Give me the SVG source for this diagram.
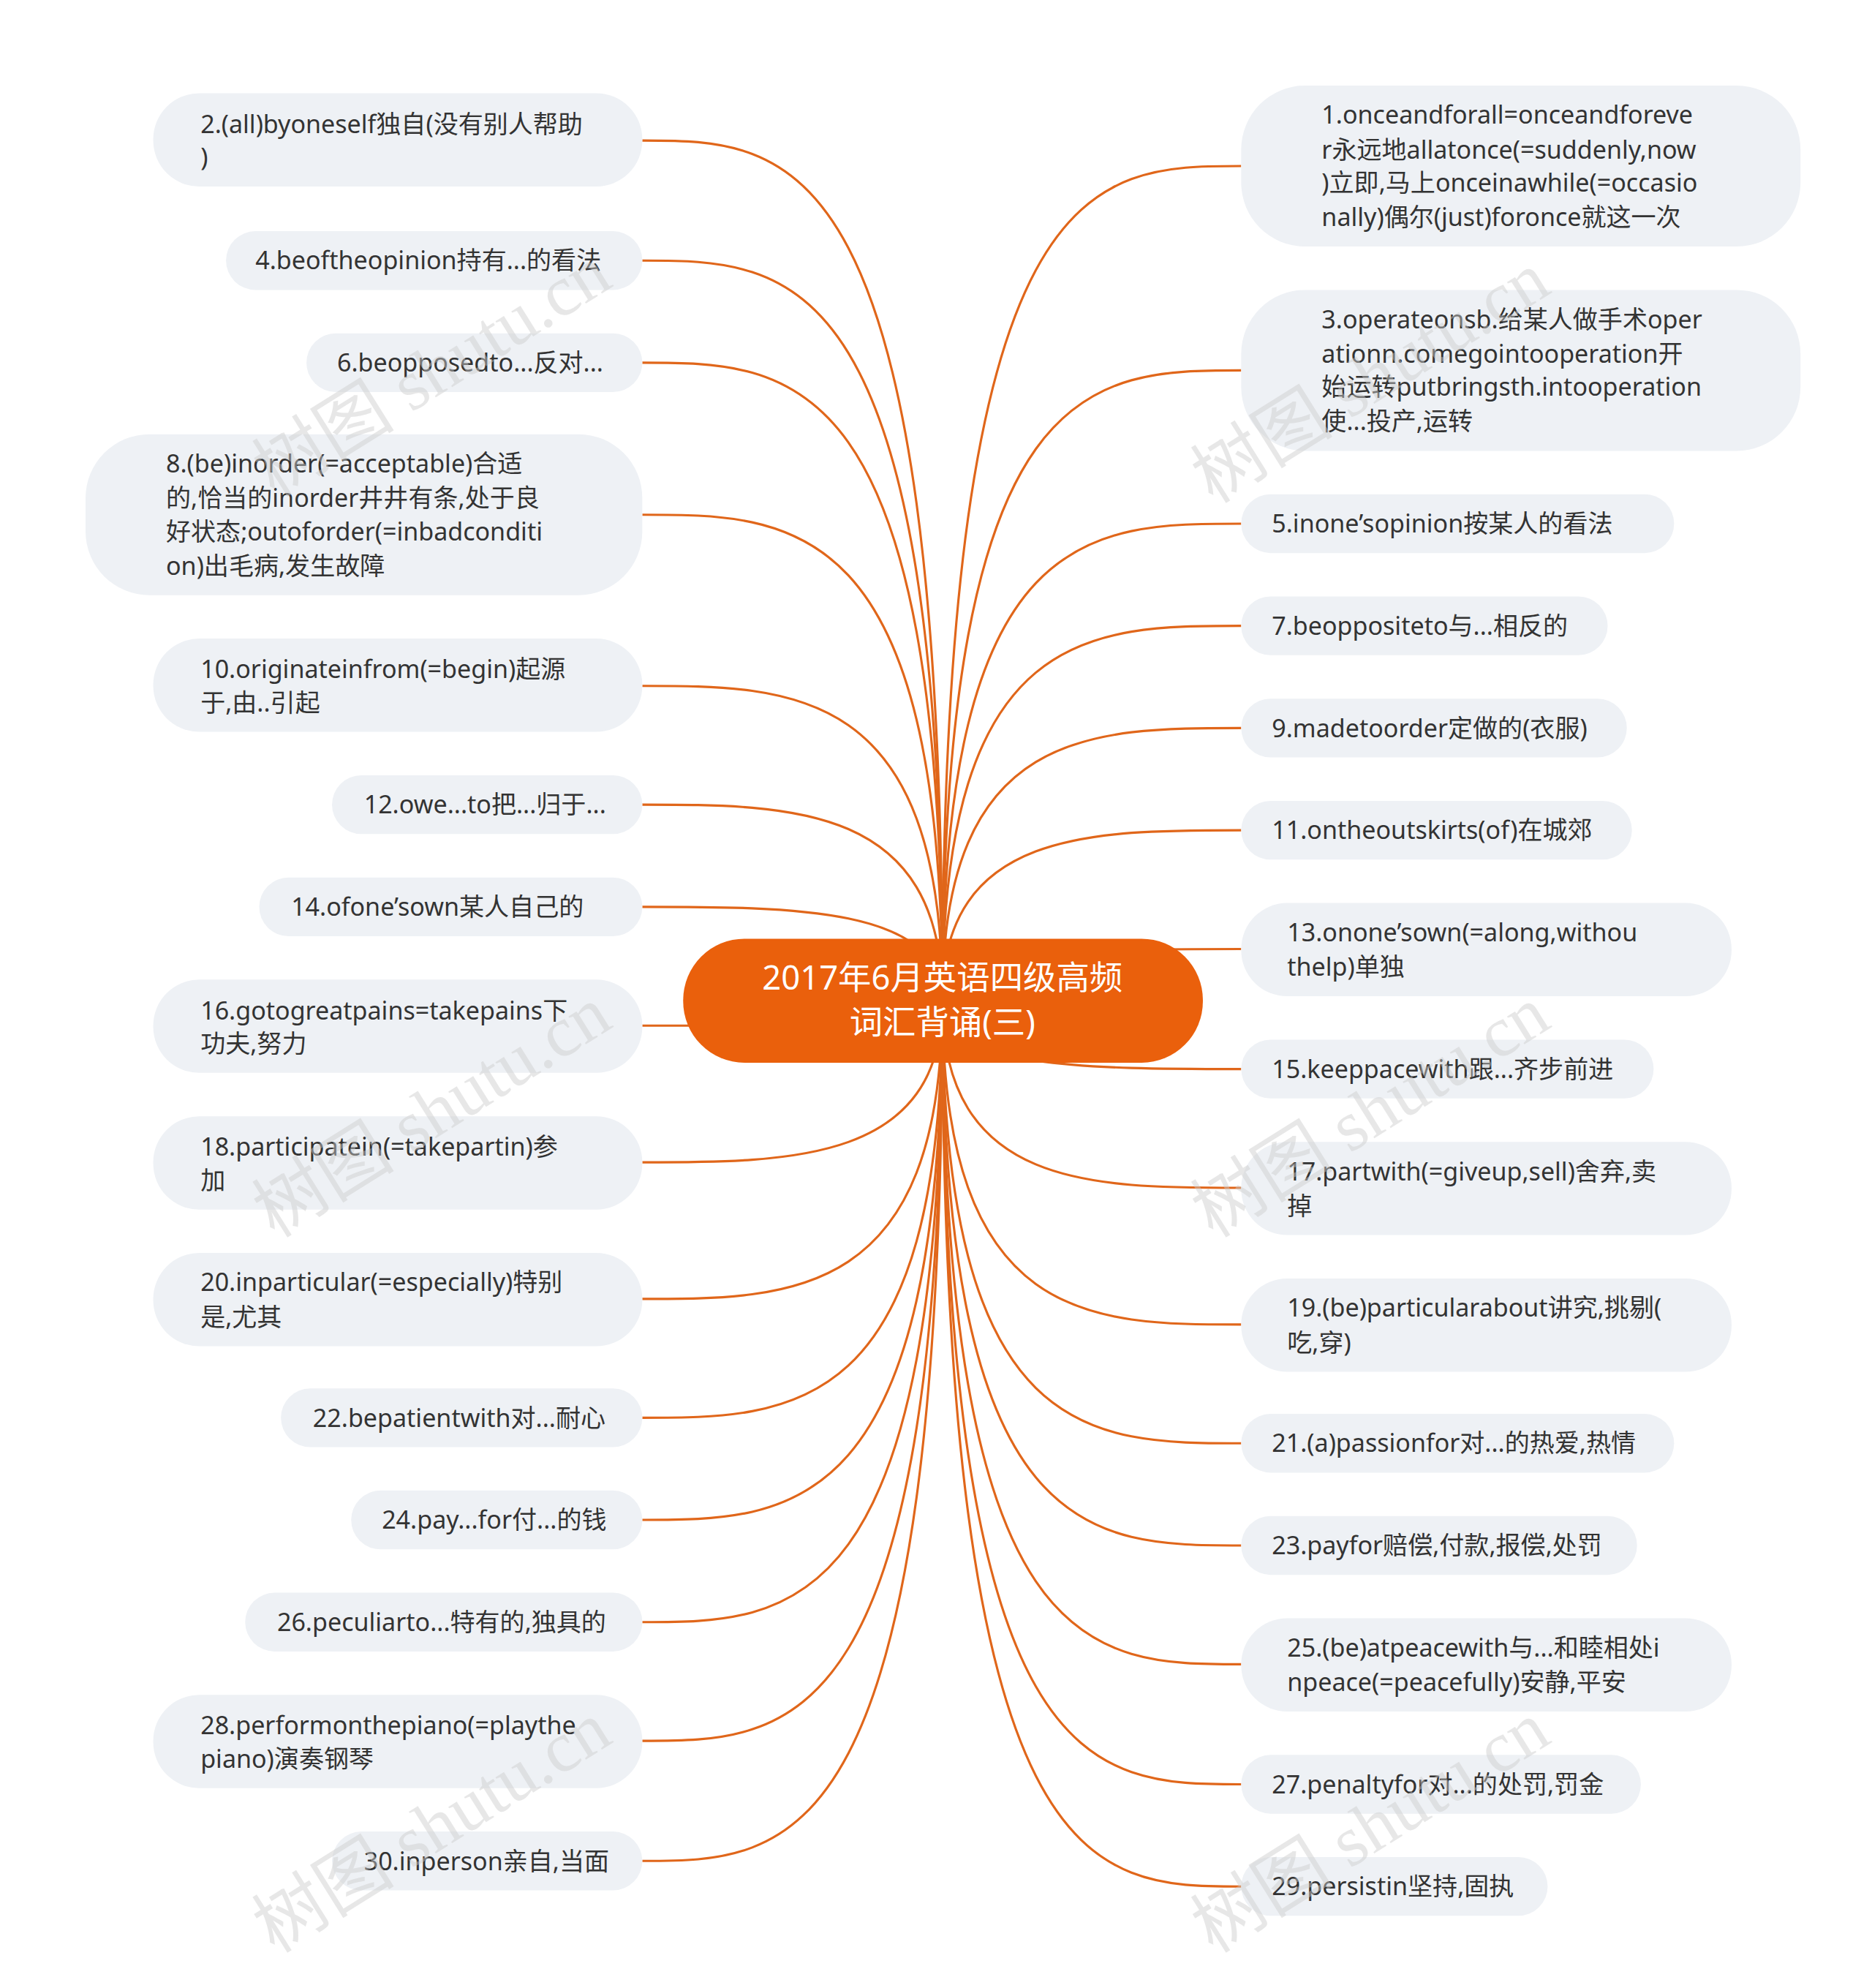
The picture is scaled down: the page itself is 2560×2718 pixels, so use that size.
<svg xmlns="http://www.w3.org/2000/svg" width="2560" height="2718" viewBox="0 0 2560 2718">
<style>
.n{fill:#EEF1F5}
.t{font-family:"Noto Sans","Noto Sans CJK SC",sans-serif;font-size:19.5px;fill:#333}
.c{fill:none;stroke:#E0661A;stroke-width:1.8}
.w{font-family:"Liberation Serif","Noto Sans CJK SC",serif;font-size:56px;fill:#ccc;opacity:0.45}
</style>
<rect width="2560" height="2718" fill="#fff"/>
<g transform="scale(1.74625)">
<g id="connectors">
<path class="c" d="M738 783 C738 110 620 110 503 110"/>
<path class="c" d="M738 783 C738 204 620 204 503 204"/>
<path class="c" d="M738 783 C738 284 620 284 503 284"/>
<path class="c" d="M738 783 C738 403 620 403 503 403"/>
<path class="c" d="M738 783 C738 537 620 537 503 537"/>
<path class="c" d="M738 783 C738 630 620 630 503 630"/>
<path class="c" d="M738 783 C738 710 620 710 503 710"/>
<path class="c" d="M738 783 C738 803 620 803 503 803"/>
<path class="c" d="M738 783 C738 910 620 910 503 910"/>
<path class="c" d="M738 783 C738 1017 620 1017 503 1017"/>
<path class="c" d="M738 783 C738 1110 620 1110 503 1110"/>
<path class="c" d="M738 783 C738 1190 620 1190 503 1190"/>
<path class="c" d="M738 783 C738 1270 620 1270 503 1270"/>
<path class="c" d="M738 783 C738 1363 620 1363 503 1363"/>
<path class="c" d="M738 783 C738 1457 620 1457 503 1457"/>
<path class="c" d="M738 783 C738 130 855 130 972 130"/>
<path class="c" d="M738 783 C738 290 855 290 972 290"/>
<path class="c" d="M738 783 C738 410 855 410 972 410"/>
<path class="c" d="M738 783 C738 490 855 490 972 490"/>
<path class="c" d="M738 783 C738 570 855 570 972 570"/>
<path class="c" d="M738 783 C738 650 855 650 972 650"/>
<path class="c" d="M738 783 C738 743 855 743 972 743"/>
<path class="c" d="M738 783 C738 837 855 837 972 837"/>
<path class="c" d="M738 783 C738 930 855 930 972 930"/>
<path class="c" d="M738 783 C738 1037 855 1037 972 1037"/>
<path class="c" d="M738 783 C738 1130 855 1130 972 1130"/>
<path class="c" d="M738 783 C738 1210 855 1210 972 1210"/>
<path class="c" d="M738 783 C738 1303 855 1303 972 1303"/>
<path class="c" d="M738 783 C738 1397 855 1397 972 1397"/>
<path class="c" d="M738 783 C738 1477 855 1477 972 1477"/>
</g>
<g id="center"><rect x="535" y="735" width="407" height="97" rx="48" fill="#EA600C"/>
<text x="738" y="775" text-anchor="middle" style="font-family:'Noto Sans','Noto Sans CJK SC',sans-serif;font-size:26px;fill:#fff">2017年6月英语四级高频</text>
<text x="738" y="810" text-anchor="middle" style="font-family:'Noto Sans','Noto Sans CJK SC',sans-serif;font-size:26px;fill:#fff">词汇背诵(三)</text></g>
<g id="n2"><rect class="n" x="120" y="73" width="383" height="73" rx="36"/><text class="t" x="157" y="104">2.(all)byoneself独自(没有别人帮助</text><text class="t" x="157" y="130">)</text></g>
<g id="n4"><rect class="n" x="177" y="181" width="326" height="46" rx="23"/><text class="t" x="200" y="211">4.beoftheopinion持有...的看法</text></g>
<g id="n6"><rect class="n" x="240" y="261" width="263" height="46" rx="23"/><text class="t" x="264" y="291">6.beopposedto...反对...</text></g>
<g id="n8"><rect class="n" x="67" y="340" width="436" height="126" rx="50"/><text class="t" x="130" y="370">8.(be)inorder(=acceptable)合适</text><text class="t" x="130" y="397">的,恰当的inorder井井有条,处于良</text><text class="t" x="130" y="423">好状态;outoforder(=inbadconditi</text><text class="t" x="130" y="450">on)出毛病,发生故障</text></g>
<g id="n10"><rect class="n" x="120" y="500" width="383" height="73" rx="36"/><text class="t" x="157" y="531">10.originateinfrom(=begin)起源</text><text class="t" x="157" y="557">于,由..引起</text></g>
<g id="n12"><rect class="n" x="260" y="607" width="243" height="46" rx="23"/><text class="t" x="285" y="637">12.owe...to把...归于...</text></g>
<g id="n14"><rect class="n" x="203" y="687" width="300" height="46" rx="23"/><text class="t" x="228" y="717">14.ofone’sown某人自己的</text></g>
<g id="n16"><rect class="n" x="120" y="767" width="383" height="73" rx="36"/><text class="t" x="157" y="798">16.gotogreatpains=takepains下</text><text class="t" x="157" y="824">功夫,努力</text></g>
<g id="n18"><rect class="n" x="120" y="874" width="383" height="73" rx="36"/><text class="t" x="157" y="905">18.participatein(=takepartin)参</text><text class="t" x="157" y="931">加</text></g>
<g id="n20"><rect class="n" x="120" y="981" width="383" height="73" rx="36"/><text class="t" x="157" y="1011">20.inparticular(=especially)特别</text><text class="t" x="157" y="1038">是,尤其</text></g>
<g id="n22"><rect class="n" x="220" y="1087" width="283" height="46" rx="23"/><text class="t" x="245" y="1117">22.bepatientwith对...耐心</text></g>
<g id="n24"><rect class="n" x="275" y="1167" width="228" height="46" rx="23"/><text class="t" x="299" y="1197">24.pay...for付...的钱</text></g>
<g id="n26"><rect class="n" x="192" y="1247" width="311" height="46" rx="23"/><text class="t" x="217" y="1277">26.peculiarto...特有的,独具的</text></g>
<g id="n28"><rect class="n" x="120" y="1327" width="383" height="73" rx="36"/><text class="t" x="157" y="1358">28.performonthepiano(=playthe</text><text class="t" x="157" y="1384">piano)演奏钢琴</text></g>
<g id="n30"><rect class="n" x="260" y="1434" width="243" height="46" rx="23"/><text class="t" x="285" y="1464">30.inperson亲自,当面</text></g>
<g id="n1"><rect class="n" x="972" y="67" width="438" height="126" rx="50"/><text class="t" x="1035" y="97">1.onceandforall=onceandforeve</text><text class="t" x="1035" y="124">r永远地allatonce(=suddenly,now</text><text class="t" x="1035" y="150">)立即,马上onceinawhile(=occasio</text><text class="t" x="1035" y="177">nally)偶尔(just)foronce就这一次</text></g>
<g id="n3"><rect class="n" x="972" y="227" width="438" height="126" rx="50"/><text class="t" x="1035" y="257">3.operateonsb.给某人做手术oper</text><text class="t" x="1035" y="284">ationn.comegointooperation开</text><text class="t" x="1035" y="310">始运转putbringsth.intooperation</text><text class="t" x="1035" y="337">使...投产,运转</text></g>
<g id="n5"><rect class="n" x="972" y="387" width="339" height="46" rx="23"/><text class="t" x="996" y="417">5.inone’sopinion按某人的看法</text></g>
<g id="n7"><rect class="n" x="972" y="467" width="287" height="46" rx="23"/><text class="t" x="996" y="497">7.beoppositeto与...相反的</text></g>
<g id="n9"><rect class="n" x="972" y="547" width="302" height="46" rx="23"/><text class="t" x="996" y="577">9.madetoorder定做的(衣服)</text></g>
<g id="n11"><rect class="n" x="972" y="627" width="306" height="46" rx="23"/><text class="t" x="996" y="657">11.ontheoutskirts(of)在城郊</text></g>
<g id="n13"><rect class="n" x="972" y="707" width="384" height="73" rx="36"/><text class="t" x="1008" y="737">13.onone’sown(=along,withou</text><text class="t" x="1008" y="764">thelp)单独</text></g>
<g id="n15"><rect class="n" x="972" y="814" width="323" height="46" rx="23"/><text class="t" x="996" y="844">15.keeppacewith跟...齐步前进</text></g>
<g id="n17"><rect class="n" x="972" y="894" width="384" height="73" rx="36"/><text class="t" x="1008" y="924">17.partwith(=giveup,sell)舍弃,卖</text><text class="t" x="1008" y="951">掉</text></g>
<g id="n19"><rect class="n" x="972" y="1001" width="384" height="73" rx="36"/><text class="t" x="1008" y="1031">19.(be)particularabout讲究,挑剔(</text><text class="t" x="1008" y="1058">吃,穿)</text></g>
<g id="n21"><rect class="n" x="972" y="1107" width="339" height="46" rx="23"/><text class="t" x="996" y="1137">21.(a)passionfor对...的热爱,热情</text></g>
<g id="n23"><rect class="n" x="972" y="1187" width="310" height="46" rx="23"/><text class="t" x="996" y="1217">23.payfor赔偿,付款,报偿,处罚</text></g>
<g id="n25"><rect class="n" x="972" y="1267" width="384" height="73" rx="36"/><text class="t" x="1008" y="1297">25.(be)atpeacewith与...和睦相处i</text><text class="t" x="1008" y="1324">npeace(=peacefully)安静,平安</text></g>
<g id="n27"><rect class="n" x="972" y="1374" width="313" height="46" rx="23"/><text class="t" x="996" y="1404">27.penaltyfor对...的处罚,罚金</text></g>
<g id="n29"><rect class="n" x="972" y="1454" width="240" height="46" rx="23"/><text class="t" x="996" y="1484">29.persistin坚持,固执</text></g>
<g id="watermarks">
<text class="w" transform="translate(215 390) rotate(-32)">树图 shutu.cn</text>
<text class="w" transform="translate(950 395) rotate(-32)">树图 shutu.cn</text>
<text class="w" transform="translate(215 970) rotate(-32)">树图 shutu.cn</text>
<text class="w" transform="translate(950 970) rotate(-32)">树图 shutu.cn</text>
<text class="w" transform="translate(215 1530) rotate(-32)">树图 shutu.cn</text>
<text class="w" transform="translate(950 1530) rotate(-32)">树图 shutu.cn</text>
</g>
</g>
</svg>
